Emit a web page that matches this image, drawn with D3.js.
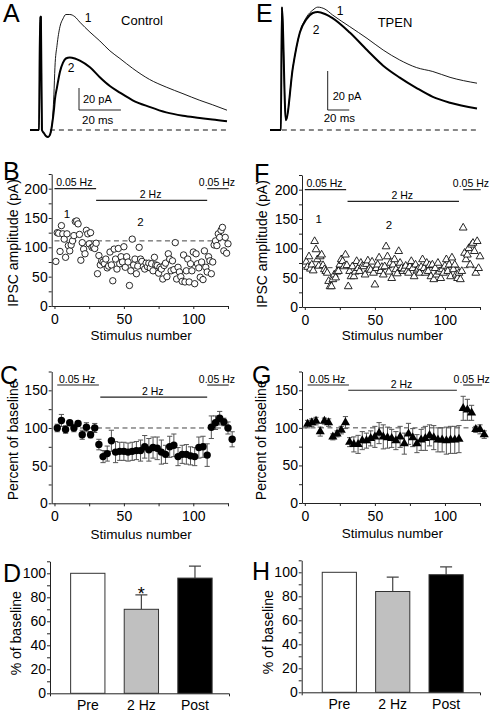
<!DOCTYPE html>
<html><head><meta charset="utf-8">
<script src="https://cdn.jsdelivr.net/npm/d3@7"></script>
<style>
body{margin:0;background:#fff}
svg text{font-family:"Liberation Sans",Arial,Helvetica,sans-serif;fill:#000}
</style></head><body>
<svg id="c" width="492" height="712"></svg>
<script>
// ================= DATA =================
// Panel A (Control) traces: time (ms) and current (pA)
const aTime   = [0,4.3,4.8,5.2,5.7,6.7,7.6,8.6,9.5,10.5,11.4,11.9,12.9,14.3,15.7,17.1,19,21.4,23.8,28.6,33.3,38.1,42.9,49,57,65,73,81,87,94];
const aTrace1 = [0,0,103,103,0,-3,-5.5,-6.4,-4.5,4.5,32,57,77,94,101,105,105,103,98,89,81,72,65,56,46,39,33,27,23,18];
const aTrace2 = [0,0,103,103,0,-3,-5.5,-6.4,-4.5,4.5,18,28,39,53,61,65,66,65,63,57,48,40,34,27,21,16,13,11,9.5,8];
// Panel E (TPEN) traces
const eTime   = [-11,-0.9,0,3.7,10.2,16.7,23,28.7,33.3,40,47,63,79,94,109,125,140,156,181];
const eTrace1 = [0,0,63,5,32,50,58,61.5,63,62,59,53,47,41,36,32,30,27,24];
const eTrace2 = [0,0,63,5,32,50,57,60,60.5,59.5,57.4,50,41,33,27,21.5,17,14,11];

// Panels B / F: IPSC amplitude (pA) per stimulus 1..125
const stimNumbers = d3.range(1, 126);
const bAmp = [76,125,124,93,137,123,114,83,123,103,94,104,111,120,144,145,140,122,78,108,97,89,129,123,106,125,100,101,98,107,
  55,86,70,77,75,72,80,65,68,92,70,43,97,80,63,98,72,84,75,101,66,84,75,35,60,114,70,80,55,68,100,80,76,67,63,73,67,73,65,72,
  60,83,70,69,56,66,63,46,69,73,50,89,80,60,77,62,108,46,66,58,50,42,87,41,60,80,41,72,60,92,38,89,72,65,49,75,45,94,66,58,
  84,77,55,75,104,111,103,123,117,129,134,94,117,90,106];
const fAmp = [77,68,86,65,72,62,112,98,81,70,86,89,71,64,61,58,44,35,35,47,55,50,60,61,72,81,78,69,89,71,
  35,61,52,69,52,60,78,66,61,75,70,69,55,73,79,65,63,77,58,38,66,72,84,61,68,55,69,103,86,60,
  75,49,72,81,64,57,95,75,66,61,65,70,61,58,69,78,66,52,72,62,65,58,68,81,66,58,75,61,71,52,
  72,47,66,55,75,60,49,64,58,70,81,61,72,52,84,64,72,55,49,58,
  47,61,135,92,81,89,100,72,106,109,95,58,112,66,86];
const bBaseline = 111;
const fBaseline = 67;

// Panels C / G: percent of baseline (mean, s.e.m.) per 3-stimulus bin
const binStim = [2,5,8,11,14,17,20,23,26,29,32,35,38,41,44,47,50,53,56,59,62,65,68,71,74,77,80,83,86,89,92,95,98,101,104,107,110,113,116,119,122,125,128];
const cMean = [100,110,98,107,100,106,91,101,91,100,
  78,62,66,83,68,69,69,68,69,70,70,75,71,74,73,68,65,75,77,62,65,65,63,62,74,75,64,
  101,107,113,108,100,85];
const cErr = [5,8,5,3,5,3,6,6,4,6,
  7,8,10,14,14,12,12,12,12,12,14,15,15,14,15,16,12,14,15,12,12,13,12,12,14,14,15,
  15,9,9,5,8,10];
const gMean = [105,107,109,95,109,107,88,92,97,107,
  81,78,78,83,83,86,88,93,88,87,86,83,88,79,92,87,79,84,86,90,87,84,84,83,84,84,85,
  126,124,120,98,98,91];
const gErr = [5,5,5,6,4,5,4,4,5,8,
  6,10,12,12,10,10,14,14,16,14,12,12,14,14,14,12,12,14,16,14,16,16,16,18,18,18,18,
  16,14,10,4,6,5];

// Stimulation periods
const periodLabels = ["0.05 Hz", "2 Hz", "0.05 Hz"];
const bPeriodStart = [0, 30, 110],  bPeriodEnd = [30, 110, 125.5], bPeriodLevel = [200, 180, 200];
const fPeriodStart = [0, 30.5, 113], fPeriodEnd = [29.5, 110, 125.5], fPeriodLevel = [200, 180, 200];
const cPeriodStart = [2, 33, 110],  cPeriodEnd = [32, 110, 125.5], cPeriodLevel = [157, 141, 157];
const gPeriodStart = [2, 31, 113],  gPeriodEnd = [31.5, 108.5, 126.5], gPeriodLevel = [157, 150, 157];

// Trace markers "1" and "2" in B / F (stimulus, amplitude)
const markLabels = ["1", "2"];
const bMarkStim = [9, 62], bMarkAmp = [150, 136];
const fMarkStim = [10, 60], fMarkAmp = [143, 133];

// Panels D / H: summary bars
const barCats = ["Pre", "2 Hz", "Post"];
const dMean = [100, 70, 96], dErr = [0, 12, 10];
const hMean = [100, 84, 98], hErr = [0, 12, 6.5];
const barFills = ["#ffffff", "#c0c0c0", "#000000"];

// ================= DRAWING =================
const svg = d3.select("#c");
const FONT = '"Liberation Sans", Arial, Helvetica, sans-serif';
const AX = "#222";

function txt(x, y, s, size, anchor, rotate) {
  const t = svg.append("text").attr("x", x).attr("y", y).text(s)
    .attr("font-size", size).attr("text-anchor", anchor || "start");
  if (rotate) t.attr("transform", `rotate(-90 ${x} ${y})`);
  return t;
}
function styleAxis(g, fs) {
  g.attr("font-family", FONT).attr("font-size", fs);
  g.select("path.domain").attr("stroke", AX).attr("stroke-width", 1);
  g.selectAll(".tick line").attr("stroke", AX);
  g.selectAll(".tick text").attr("fill", "#000");
}

// ---------- trace panels ----------
function tracePanel(time, tr1, tr2, xDom, xRng, yDom, yRng, dashFrom, anchor, sb, cond, condX, condY, labs) {
  const x = d3.scaleLinear().domain(xDom).range(xRng);
  const y = d3.scaleLinear().domain(yDom).range(yRng);
  svg.append("line").attr("x1", x(dashFrom)).attr("x2", x(xDom[1]))
    .attr("y1", y(0)).attr("y2", y(0))
    .attr("stroke", "#111").attr("stroke-width", 1).attr("stroke-dasharray", "5,4");
  const line = d3.line().x((d, i) => x(time[i])).y(d => y(d)).curve(d3.curveMonotoneX);
  svg.append("path").attr("d", line(tr1)).attr("fill", "none").attr("stroke", "#000").attr("stroke-width", 0.9);
  svg.append("path").attr("d", line(tr2)).attr("fill", "none").attr("stroke", "#000").attr("stroke-width", 2).attr("stroke-linejoin", "round");
  // scale bars: 20 pA and 20 ms
  const vLen = y(0) - y(20), hLen = x(20) - x(0);
  svg.append("path").attr("d", `M${anchor[0]},${anchor[1] - vLen}V${anchor[1]}H${anchor[0] + hLen}`)
    .attr("fill", "none").attr("stroke", "#222").attr("stroke-width", 1);
  txt(anchor[0] + sb[0], anchor[1] + sb[1], "20 pA", 11);
  txt(anchor[0] + sb[2], anchor[1] + sb[3], "20 ms", 11.5);
  txt(condX, condY, cond, 13, "middle");
  txt(labs[0], labs[1], "1", 12, "middle");
  txt(labs[2], labs[3], "2", 12, "middle");
}
tracePanel(aTime, aTrace1, aTrace2, [0, 94], [30, 227], [-10, 110], [141, 9], 9.5,
  [79, 110], [4, -7, 3, 14], "Control", 142, 25, [88, 22, 71, 72]);
tracePanel(eTime, eTrace1, eTrace2, [-11, 181], [270, 477], [-5, 65], [139.75, 3.25], 0,
  [327.7, 110], [5, -10, -4, 12], "TPEN", 395, 27, [340, 15, 316, 34]);

// ---------- time-course panels ----------
function timePanel(o) {
  const x = d3.scaleLinear().domain([-2, 125]).range(o.xr);
  const y = d3.scaleLinear().domain([0, o.ymax]).range(o.yr);
  const gx = svg.append("g").attr("transform", `translate(0,${o.yr[0]})`)
    .call(d3.axisBottom(x).tickValues([0, 25, 50, 75, 100, 125])
      .tickFormat(d => d % 50 === 0 ? d : "").tickSizeInner(3).tickSizeOuter(0).tickPadding(5));
  styleAxis(gx, 14);
  const gy = svg.append("g").attr("transform", `translate(${o.xr[0]},0)`)
    .call(d3.axisLeft(y).tickValues(d3.range(0, o.ymax + 1, 25))
      .tickFormat(d => d % 50 === 0 ? d : "").tickSizeInner(3).tickSizeOuter(0).tickPadding(1));
  styleAxis(gy, 14);
  // period bars
  periodLabels.forEach((lab, i) => {
    const x1 = x(o.ps[i]), x2 = x(o.pe[i]), yy = y(o.pl[i]);
    svg.append("line").attr("x1", x1).attr("x2", x2).attr("y1", yy).attr("y2", yy)
      .attr("stroke", "#222").attr("stroke-width", 1.1);
    txt((x1 + x2) / 2 - 1, yy - 2.5, lab, 10.5, "middle");
  });
  // dashed reference
  svg.append("line").attr("x1", x(o.dashFrom)).attr("x2", x(125)).attr("y1", y(o.dash)).attr("y2", y(o.dash))
    .attr("stroke", "#444").attr("stroke-width", 1).attr("stroke-dasharray", "5,3.5");
  txt(o.ylabX, (o.yr[0] + y(o.ymax)) / 2 + 3, o.ylab, 14, "middle", true);
  txt((x(0) + x(125)) / 2, o.xlabY, "Stimulus number", 13.5, "middle");
  return { x, y };
}

function amplitudePanel(o) {
  const { x, y } = timePanel(o);
  const pts = svg.append("g");
  if (o.sym === "circle") {
    pts.selectAll("circle").data(o.vals).join("circle")
      .attr("cx", (d, i) => x(stimNumbers[i])).attr("cy", d => y(d)).attr("r", 3.2)
      .attr("fill", "#fff").attr("stroke", "#111").attr("stroke-width", 0.9);
  } else {
    const sym = d3.symbol(d3.symbolTriangle, 26);
    pts.selectAll("path").data(o.vals).join("path").attr("d", sym)
      .attr("transform", (d, i) => `translate(${x(stimNumbers[i])},${y(d)})`)
      .attr("fill", "#fff").attr("stroke", "#111").attr("stroke-width", 0.9);
  }
  markLabels.forEach((m, i) => txt(x(o.ms[i]), y(o.ma[i]), m, 11.5, "middle"));
}

function percentPanel(o) {
  const { x, y } = timePanel(o);
  const eb = svg.append("g").attr("stroke", "#555").attr("stroke-width", 1);
  o.vals.forEach((v, i) => {
    const cx = x(binStim[i]), lo = y(v - o.err[i]), hi = y(v + o.err[i]);
    eb.append("path").attr("d", `M${cx},${lo}V${hi}M${cx - 2.6},${hi}H${cx + 2.6}M${cx - 2.6},${lo}H${cx + 2.6}`)
      .attr("fill", "none");
  });
  const pts = svg.append("g");
  if (o.sym === "circle") {
    pts.selectAll("circle").data(o.vals).join("circle")
      .attr("cx", (d, i) => x(binStim[i])).attr("cy", d => y(d)).attr("r", 3.7).attr("fill", "#000");
  } else {
    const sym = d3.symbol(d3.symbolTriangle, 36);
    pts.selectAll("path").data(o.vals).join("path").attr("d", sym)
      .attr("transform", (d, i) => `translate(${x(binStim[i])},${y(d)})`).attr("fill", "#000");
  }
}

amplitudePanel({ xr: [51.7, 228], yr: [306, 174], ymax: 225, vals: bAmp, sym: "circle",
  ps: bPeriodStart, pe: bPeriodEnd, pl: bPeriodLevel, dash: bBaseline, dashFrom: 0,
  ylab: "IPSC amplitude (pA)", ylabX: 18, xlabY: 339.5, ms: bMarkStim, ma: bMarkAmp });
amplitudePanel({ xr: [302, 480], yr: [307, 175], ymax: 225, vals: fAmp, sym: "triangle",
  ps: fPeriodStart, pe: fPeriodEnd, pl: fPeriodLevel, dash: fBaseline, dashFrom: -2,
  ylab: "IPSC amplitude (pA)", ylabX: 266.5, xlabY: 340, ms: fMarkStim, ma: fMarkAmp });
percentPanel({ xr: [51.7, 228], yr: [503.3, 371.5], ymax: 175, vals: cMean, err: cErr, sym: "circle",
  ps: cPeriodStart, pe: cPeriodEnd, pl: cPeriodLevel, dash: 100, dashFrom: 0,
  ylab: "Percent of baseline", ylabX: 18, xlabY: 538.5 });
percentPanel({ xr: [302, 480], yr: [503, 371.5], ymax: 175, vals: gMean, err: gErr, sym: "triangle",
  ps: gPeriodStart, pe: gPeriodEnd, pl: gPeriodLevel, dash: 100, dashFrom: -2,
  ylab: "Percent of baseline", ylabX: 265.5, xlabY: 538 });

// ---------- bar panels ----------
function barPanel(vals, errs, xr, yr, ylabX, star) {
  const x = d3.scaleBand().domain(barCats).range(xr).paddingInner(0.36).paddingOuter(0.35).align(0.55);
  const y = d3.scaleLinear().domain([0, 110]).range(yr);
  const gy = svg.append("g").attr("transform", `translate(${xr[0]},0)`)
    .call(d3.axisLeft(y).tickValues(d3.range(0, 111, 10)).tickFormat(d => d % 20 === 0 ? d : "")
      .tickSizeInner(3).tickSizeOuter(0).tickPadding(1));
  styleAxis(gy, 14);
  const gx = svg.append("g").attr("transform", `translate(0,${yr[0]})`)
    .call(d3.axisBottom(x).tickSizeInner(0).tickSizeOuter(3).tickPadding(7));
  styleAxis(gx, 14);
  barCats.forEach((c, i) => {
    const cx = x(c) + x.bandwidth() / 2;
    if (errs[i] > 0) {
      svg.append("path").attr("d", `M${cx},${y(vals[i])}V${y(vals[i] + errs[i])}M${cx - 6},${y(vals[i] + errs[i])}H${cx + 6}`)
        .attr("fill", "none").attr("stroke", "#444").attr("stroke-width", 1.2);
    }
    svg.append("rect").attr("x", x(c)).attr("width", x.bandwidth())
      .attr("y", y(vals[i])).attr("height", y(0) - y(vals[i]))
      .attr("fill", barFills[i]).attr("stroke", "#333").attr("stroke-width", 1);
  });
  if (star) {
    const c = barCats[1], cx = x(c) + x.bandwidth() / 2;
    txt(cx, y(vals[1] + errs[1]) + 5, "*", 18, "middle");
  }
  txt(ylabX, (yr[0] + yr[1]) / 2 + 6, "% of baseline", 14, "middle", true);
}
barPanel(dMean, dErr, [50, 229], [693.3, 561.3], 21.5, true);
barPanel(hMean, hErr, [301.7, 480], [692.3, 560.3], 273.5, false);

// ---------- panel letters ----------
const letters = [["A", 3, 22], ["E", 256, 22], ["B", 3, 180], ["F", 254, 182], ["C", 0, 384], ["G", 252, 384], ["D", 3, 582], ["H", 252, 580]];
letters.forEach(l => txt(l[1], l[2], l[0], 25));
</script>
</body></html>
